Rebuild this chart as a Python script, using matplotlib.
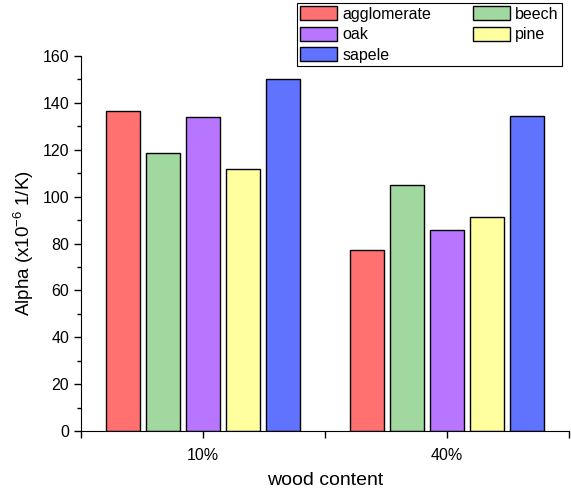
import numpy as np
import matplotlib.pyplot as plt
from matplotlib.ticker import MultipleLocator

plt.rcParams['font.family'] = ['Liberation Sans', 'DejaVu Sans']
plt.rcParams['mathtext.default'] = 'regular'

categories = ['10%', '40%']
woods = ['agglomerate', 'beech', 'oak', 'pine', 'sapele']
agglomerate = [136.5, 77.2]
beech = [118.5, 104.8]
oak = [133.8, 85.7]
pine = [111.8, 91.3]
sapele = [150.0, 134.3]
colors = ['#ff7070', '#a0d8a0', '#b875ff', '#ffffa0', '#5f73ff']

series = [agglomerate, beech, oak, pine, sapele]

fig = plt.figure(figsize=(5.71, 4.92), dpi=100)
ax = fig.add_axes([81 / 571, 1 - 431 / 492, 488 / 571, 375 / 492])

x = np.arange(len(categories))
step = 0.164
width = 0.14
bars = []
for i, (vals, name, c) in enumerate(zip(series, woods, colors)):
    b = ax.bar(x + (i - 2) * step, vals, width, color=c, edgecolor='black',
               linewidth=1.0, label=name)
    bars.append(b)

ax.set_xlim(-0.5, 1.5)
ax.set_ylim(0, 160)
ax.set_xticks(x)
ax.set_xticklabels(categories)
ax.xaxis.set_minor_locator(MultipleLocator(0.5))
ax.yaxis.set_major_locator(MultipleLocator(20))
ax.yaxis.set_minor_locator(MultipleLocator(10))
ax.tick_params(which='major', direction='out', length=5, width=1, labelsize=11.5)
ax.tick_params(which='minor', direction='out', length=3, width=1)
ax.tick_params(axis='x', which='minor', length=5)
ax.tick_params(axis='x', which='major', pad=7)
ax.spines['top'].set_visible(False)
ax.spines['right'].set_visible(False)
ax.set_xlabel('wood content', fontsize=14, labelpad=7)
ax.set_ylabel('Alpha (x10$^{-6}$ 1/K)', fontsize=13.5, labelpad=5)

order = [0, 2, 4, 1, 3]
leg = fig.legend([bars[i] for i in order], [woods[i] for i in order], ncol=2,
                 loc='upper left', bbox_to_anchor=(297 / 571, 1 - 3 / 492),
                 fancybox=False, edgecolor='black', framealpha=1,
                 fontsize=11.5, handlelength=2.3, handleheight=1.0,
                 borderpad=0.2, labelspacing=0.3, columnspacing=2.6,
                 handletextpad=0.35, borderaxespad=0)
leg.get_frame().set_linewidth(0.8)

fig.savefig('out.png', dpi=100)
